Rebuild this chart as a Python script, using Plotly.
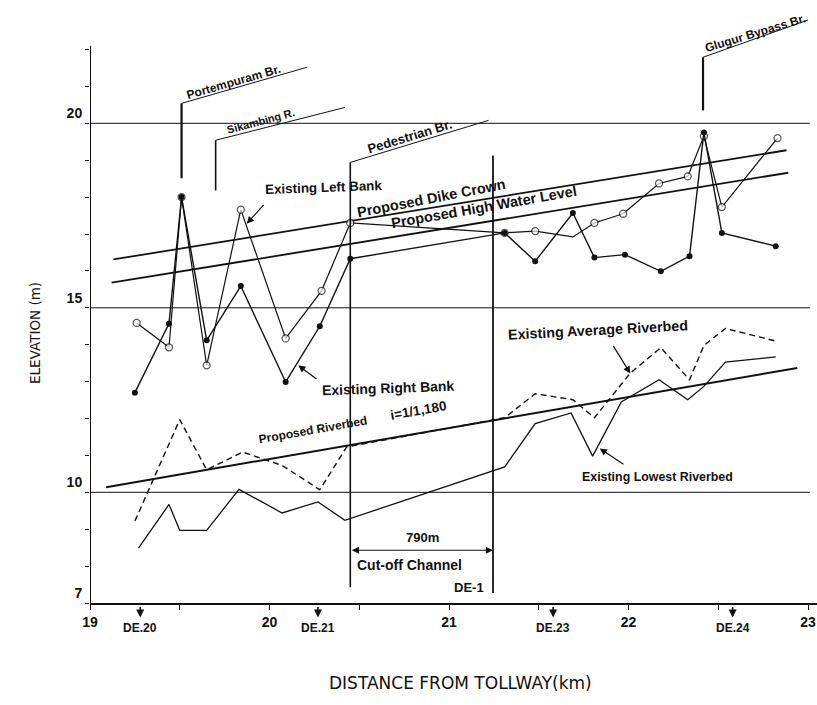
import plotly.graph_objects as go

# ---------------- data ----------------
left_bank_x = [19.26, 19.44, 19.51, 19.65, 19.84, 20.09, 20.29, 20.45, 21.31, 21.48, 21.69, 21.81, 21.97, 22.17, 22.33, 22.42, 22.52, 22.83]
left_bank_y = [14.59, 13.93, 18.00, 13.44, 17.66, 14.17, 15.46, 17.30, 17.03, 17.08, 16.92, 17.30, 17.55, 18.37, 18.56, 19.65, 17.73, 19.60]

right_bank_x = [19.25, 19.44, 19.51, 19.65, 19.84, 20.09, 20.28, 20.45, 21.31, 21.48, 21.69, 21.81, 21.98, 22.18, 22.34, 22.42, 22.52, 22.82]
right_bank_y = [12.70, 14.57, 18.00, 14.12, 15.59, 12.99, 14.50, 16.33, 17.03, 16.26, 17.57, 16.36, 16.44, 15.99, 16.40, 19.75, 17.03, 16.67]

avg_bed_x = [19.25, 19.50, 19.65, 19.85, 20.07, 20.28, 20.43, 21.31, 21.48, 21.69, 21.81, 22.01, 22.18, 22.34, 22.42, 22.54, 22.82]
avg_bed_y = [9.22, 11.97, 10.61, 11.09, 10.73, 10.07, 11.23, 12.02, 12.67, 12.51, 12.02, 13.23, 13.92, 13.05, 13.98, 14.44, 14.10]

low_bed_x = [19.27, 19.44, 19.50, 19.65, 19.83, 20.07, 20.27, 20.42, 21.31, 21.48, 21.68, 21.80, 21.96, 22.17, 22.33, 22.42, 22.54, 22.82]
low_bed_y = [8.49, 9.67, 8.97, 8.97, 10.08, 9.44, 9.74, 9.24, 10.69, 11.86, 12.15, 10.98, 12.45, 13.05, 12.51, 12.87, 13.53, 13.67]

dike_x = [19.13, 22.88]
dike_y = [16.31, 19.27]
hwl_x = [19.12, 22.89]
hwl_y = [15.68, 18.66]
prop_bed_x = [19.09, 22.94]
prop_bed_y = [10.14, 13.37]

x_ticks = [19, 19.5, 20, 20.5, 21, 21.5, 22, 22.5, 23]
x_ticktext = ["19", "", "20", "", "21", "", "22", "", "23"]
y_ticks = list(range(7, 23))
y_labelled = {7: "7", 10: "10", 15: "15", 20: "20"}
y_ticktext = [y_labelled.get(v, "") for v in y_ticks]
grid_levels = [10, 15, 20]

stations = ["DE.20", "DE.21", "DE.23", "DE.24"]
station_x = [19.28, 20.27, 21.58, 22.58]

INK = "#111111"
FONT = "Liberation Sans"

fig = go.Figure()

# proposed lines
for xs, ys, w in [(dike_x, dike_y, 1.8), (hwl_x, hwl_y, 1.8), (prop_bed_x, prop_bed_y, 2.0)]:
    fig.add_trace(go.Scatter(x=xs, y=ys, mode="lines", line=dict(color=INK, width=w),
                             showlegend=False, hoverinfo="skip"))

# riverbeds
fig.add_trace(go.Scatter(x=avg_bed_x, y=avg_bed_y, mode="lines",
                         line=dict(color=INK, width=1.4, dash="6px,4px"), showlegend=False))
fig.add_trace(go.Scatter(x=low_bed_x, y=low_bed_y, mode="lines",
                         line=dict(color=INK, width=1.3), showlegend=False))

# banks
lb_sizes = [7] * len(left_bank_x)
lb_sizes[10] = 0
fig.add_trace(go.Scatter(x=left_bank_x, y=left_bank_y, mode="lines+markers",
                         line=dict(color=INK, width=1.2),
                         marker=dict(symbol="circle", size=lb_sizes, color="white",
                                     line=dict(color=INK, width=1.3)),
                         showlegend=False))
fig.add_trace(go.Scatter(x=right_bank_x, y=right_bank_y, mode="lines+markers",
                         line=dict(color=INK, width=1.4),
                         marker=dict(symbol="circle", size=6, color=INK),
                         showlegend=False))

shapes = []
for g in grid_levels:
    shapes.append(dict(type="line", xref="x", yref="y", x0=19, x1=23.01, y0=g, y1=g,
                       line=dict(color=INK, width=1)))
shapes.append(dict(type="line", xref="x", yref="y", x0=19, x1=19, y0=7, y1=22.1,
                   line=dict(color=INK, width=2)))

def leader(xv, y_bot, y_top, x_end, y_end, w=1.6):
    shapes.append(dict(type="line", xref="x", yref="y", x0=xv, x1=xv, y0=y_bot, y1=y_top,
                       line=dict(color=INK, width=w)))
    shapes.append(dict(type="line", xref="x", yref="y", x0=xv, x1=x_end, y0=y_top, y1=y_end,
                       line=dict(color=INK, width=1)))

leader(19.51, 18.51, 20.54, 20.21, 21.52, 2.2)
leader(19.70, 18.18, 19.54, 20.42, 20.43)
leader(20.45, 7.43, 18.94, 21.22, 20.08)
leader(22.415, 20.35, 21.79, 23.00, 22.80, 2.2)
shapes.append(dict(type="line", xref="x", yref="y", x0=21.245, x1=21.245, y0=7.27, y1=19.13,
                   line=dict(color=INK, width=1.8)))

annotations = []

def txt(text, x, y, size=12, angle=0, bold=True, **kw):
    annotations.append(dict(text=text, x=x, y=y, xref=kw.pop("xref", "x"), yref=kw.pop("yref", "y"),
                            showarrow=False, textangle=angle, xanchor="center", yanchor="middle",
                            font=dict(family=kw.pop("family", FONT), size=size, color=INK,
                                      weight="bold" if bold else "normal"), **kw))

def arrow(x_head, y_head, x_tail, y_tail, side="end"):
    annotations.append(dict(x=x_head, y=y_head, ax=x_tail, ay=y_tail, xref="x", yref="y",
                            axref="x", ayref="y", showarrow=True, arrowhead=2, arrowsize=1.2,
                            arrowwidth=1.2, arrowcolor=INK, arrowside=side, text=""))

txt("Portempuram Br.", 19.80, 21.11, 12, -16)
txt("Sikambing R.", 19.95, 20.05, 11, -15)
txt("Pedestrian Br.", 20.78, 19.65, 13, -17)
txt("Glugur Bypass Br.", 22.71, 22.44, 12, -17)
txt("Existing Left Bank", 20.30, 18.27, 13.4, -2)
arrow(19.873, 17.28, 19.975, 17.83)
txt("Proposed Dike Crown", 20.905, 17.97, 14.5, -11)
txt("Proposed High Water Level", 21.195, 17.72, 14.5, -10)
txt("Existing Right Bank", 20.66, 12.82, 14, -2)
arrow(20.16, 13.44, 20.27, 13.04)
txt("Proposed Riverbed", 20.24, 11.68, 12, -10)
txt("i=1/1,180", 20.83, 12.22, 13.5, -10)
txt("Existing Average Riverbed", 21.83, 14.39, 14.3, -3)
arrow(22.01, 13.22, 21.91, 14.01)
txt("Existing Lowest Riverbed", 22.16, 10.41, 12.4, 0)
arrow(21.84, 11.19, 21.98, 10.73)
txt("790m", 20.85, 8.78, 13)
arrow(21.245, 8.43, 20.45, 8.43, side="end+start")
txt("Cut-off Channel", 20.78, 8.02, 14)
txt("DE-1", 21.11, 7.43, 13)

# station markers below the x axis
for name, sx in zip(stations, station_x):
    annotations.append(dict(x=sx, y=-0.0245, xref="x", yref="paper", ax=0, ay=-12,
                            showarrow=True, arrowhead=2, arrowsize=1, arrowwidth=1.6,
                            arrowcolor=INK, text=""))
    txt(name, sx, -0.042, 12, yref="paper")

# axis titles
txt("ELEVATION (m)", -0.0757, 0.4538, 13.5, -90, bold=False, xref="paper", yref="paper",
    family="DejaVu Sans")
txt("DISTANCE FROM TOLLWAY(km)", 0.510, -0.1345, 17, 0, bold=False, xref="paper", yref="paper",
    family="DejaVu Sans")

fig.update_layout(
    width=817, height=705,
    margin=dict(l=90, r=0, t=8, b=102),
    paper_bgcolor="white", plot_bgcolor="white",
    shapes=shapes, annotations=annotations,
    showlegend=False,
    xaxis=dict(range=[19, 23.05], showgrid=False, zeroline=False, showline=True,
               linecolor=INK, linewidth=1.6, ticks="outside", ticklen=5, tickwidth=1.4,
               tickcolor=INK, tickvals=x_ticks, ticktext=x_ticktext,
               tickfont=dict(family=FONT, size=14, color=INK, weight="bold")),
    yaxis=dict(range=[7, 23.125], showgrid=False, zeroline=False, showline=False,
               ticks="outside", ticklen=4, tickwidth=1.2, tickcolor=INK,
               tickvals=y_ticks, ticktext=y_ticktext, ticklabelshift=-10,
               tickfont=dict(family=FONT, size=14, color=INK, weight="bold")),
)

fig.write_html("out.html", config={"displayModeBar": False},
               post_script="document.body.style.margin='0';document.body.style.overflow='hidden';")
